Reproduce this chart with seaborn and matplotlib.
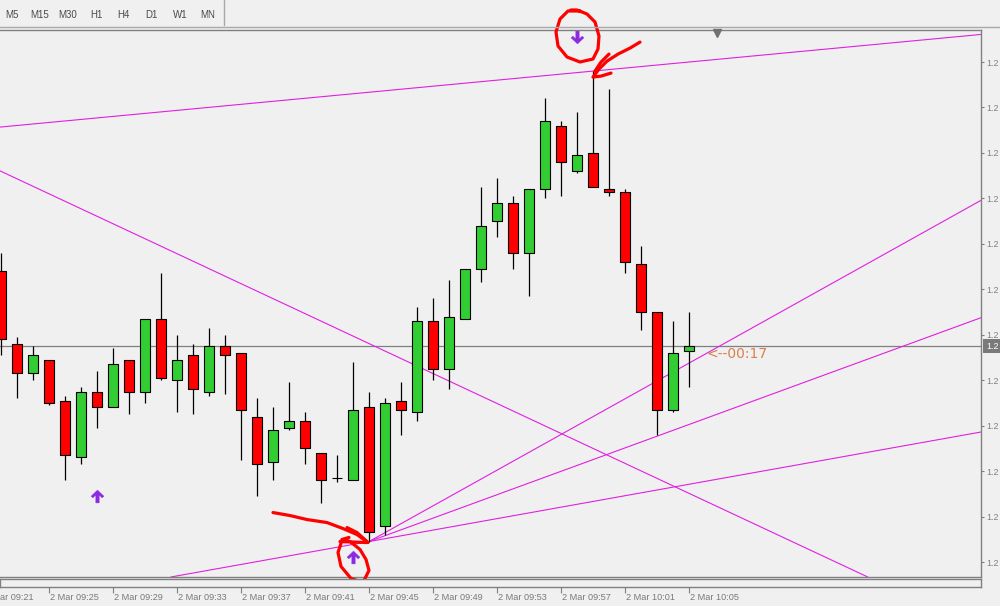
import numpy as np
import pandas as pd
import matplotlib
matplotlib.use("Agg")
import matplotlib.pyplot as plt
import matplotlib.transforms as mtransforms
from matplotlib.lines import Line2D
from matplotlib.path import Path
import seaborn as sns

# ---------------- M1 bars, 2 Mar, 09:22 .. 10:05 ----------------
first_bar = "2018-03-02 09:22"
opens = [1.23028, 1.22996, 1.22983, 1.22989, 1.22971, 1.22946, 1.22975, 1.22968, 1.22989, 1.22975,
         1.23007, 1.22980, 1.22991, 1.22975, 1.22995, 1.22992, 1.22964, 1.22944, 1.22959, 1.22962,
         1.22948, 1.22937, 1.22936, 1.22968, 1.22916, 1.22971, 1.22966, 1.23006, 1.22985, 1.23007,
         1.23029, 1.23050, 1.23058, 1.23036, 1.23064, 1.23092, 1.23072, 1.23080, 1.23064, 1.23063,
         1.23031, 1.23010, 1.22967, 1.22993]
highs = [1.23036, 1.22999, 1.22995, 1.22989, 1.22973, 1.22977, 1.22984, 1.22994, 1.22989, 1.23007,
         1.23027, 1.23000, 1.22996, 1.23003, 1.23000, 1.22992, 1.22972, 1.22968, 1.22979, 1.22966,
         1.22948, 1.22947, 1.22988, 1.22975, 1.22972, 1.22979, 1.23012, 1.23016, 1.23024, 1.23029,
         1.23065, 1.23069, 1.23061, 1.23064, 1.23104, 1.23094, 1.23098, 1.23116, 1.23108, 1.23064,
         1.23039, 1.23010, 1.23006, 1.23010]
lows = [1.22991, 1.22972, 1.22980, 1.22969, 1.22936, 1.22943, 1.22959, 1.22968, 1.22965, 1.22970,
        1.22980, 1.22966, 1.22965, 1.22973, 1.22974, 1.22945, 1.22929, 1.22936, 1.22958, 1.22943,
        1.22926, 1.22935, 1.22936, 1.22909, 1.22912, 1.22956, 1.22962, 1.22980, 1.22976, 1.23007,
        1.23023, 1.23043, 1.23029, 1.23017, 1.23060, 1.23061, 1.23071, 1.23065, 1.23061, 1.23027,
        1.23002, 1.22956, 1.22966, 1.22977]
closes = [1.22998, 1.22983, 1.22991, 1.22970, 1.22947, 1.22975, 1.22968, 1.22987, 1.22975, 1.23007,
          1.22981, 1.22989, 1.22976, 1.22995, 1.22991, 1.22967, 1.22943, 1.22958, 1.22962, 1.22950,
          1.22936, 1.22937, 1.22967, 1.22913, 1.22970, 1.22967, 1.23006, 1.22985, 1.23008, 1.23029,
          1.23048, 1.23058, 1.23036, 1.23064, 1.23094, 1.23076, 1.23079, 1.23065, 1.23063, 1.23032,
          1.23010, 1.22967, 1.22992, 1.22995]

# indicator arrows (bar index, price)
signal_up_idx = [6, 22]
signal_up_price = [1.22929, 1.22902]
signal_dn_idx = [36]
signal_dn_price = [1.23131]

# trend lines: two anchor points each (bar index, price)
trend_top = [(0, 1.230914), (37, 1.231160)]
trend_down = [(0, 1.230719), (40, 1.229401)]
trend_low = [(23, 1.229090), (43, 1.229342)]
# fan rays from the 09:45 low
fan_origin = (23, 1.229090)
fan_targets = [(43, 1.229875), (43, 1.229605)]

price_ticks = [1.22900, 1.22920, 1.22940, 1.22960, 1.22980, 1.23000,
               1.23020, 1.23040, 1.23060, 1.23080, 1.23100, 1.23120]
# the narrow price scale only has room for the leading digits
price_tick_text = "1.2"
time_labels = pd.date_range("2018-03-02 09:21", "2018-03-02 10:05", freq="4min")
timeframes = ["M5", "M15", "M30", "H1", "H4", "D1", "W1", "MN"]
timer_text = "<--00:17"

# ---------------- styling ----------------
sns.set_theme(style="white")
plt.rcParams["font.family"] = ["Liberation Sans", "DejaVu Sans"]

BG = "#f0f0f0"
FRAME = "#808080"
BULL = "#32cd32"
BEAR = "#ff0000"
LINE = "#e020e0"
SIGNAL = "#8a2be2"
MARK = "#ff0000"

W, H = 1000, 606
fig = plt.figure(figsize=(W / 100, H / 100), dpi=100, facecolor=BG)

top_px, bot_px, right_px = 29.5, 577.0, 981.0
ax = fig.add_axes([0, 1 - bot_px / H, right_px / W, (bot_px - top_px) / H])
ax.set_facecolor(BG)

idx = np.arange(len(opens))
o = np.array(opens); c = np.array(closes)
hi = np.array(highs); lo = np.array(lows)

ax.set_xlim(-1 / 16, 980 / 16)
ax.set_ylim(1.228934, 1.231343)

# wicks and bodies
ax.vlines(idx, lo, hi, color="black", lw=0.9, zorder=3)
body_col = np.where(c > o, BULL, np.where(c < o, BEAR, "black"))
ax.bar(idx, np.abs(c - o), bottom=np.minimum(o, c), width=0.6,
       color=body_col, edgecolor="black", linewidth=0.8, zorder=4)

# trend lines
for (p1, p2) in (trend_top, trend_down, trend_low):
    ax.axline(p1, p2, color=LINE, lw=0.8, zorder=2)
x_end = ax.get_xlim()[1]
for tx, ty in fan_targets:
    slope = (ty - fan_origin[1]) / (tx - fan_origin[0])
    ax.plot([fan_origin[0], x_end],
            [fan_origin[1], fan_origin[1] + slope * (x_end - fan_origin[0])],
            color=LINE, lw=0.8, zorder=2)

# bid line
bid = closes[-1]
ax.axhline(bid, color=FRAME, lw=0.9, zorder=1)

# arrow markers for indicator signals
up_arrow = Path([(0, 0.5), (0.5, 0.02), (0.36, -0.1), (0.13, 0.12), (0.13, -0.5),
                 (-0.13, -0.5), (-0.13, 0.12), (-0.36, -0.1), (-0.5, 0.02), (0, 0.5)],
                [Path.MOVETO] + [Path.LINETO] * 8 + [Path.CLOSEPOLY])
dn_arrow = Path(up_arrow.vertices * np.array([1, -1]), up_arrow.codes)
sns.scatterplot(x=signal_up_idx, y=signal_up_price, marker=up_arrow, s=85,
                color=SIGNAL, edgecolor=SIGNAL, linewidth=0.3, ax=ax, zorder=6, clip_on=False)
sns.scatterplot(x=signal_dn_idx, y=signal_dn_price, marker=dn_arrow, s=85,
                color=SIGNAL, edgecolor=SIGNAL, linewidth=0.3, ax=ax, zorder=6, clip_on=False)

# price scale on the right
ax.yaxis.tick_right()
ax.set_yticks(price_ticks)
ax.set_yticklabels([price_tick_text] * len(price_ticks))
ax.tick_params(axis="y", direction="out", length=2, width=0.8, color=FRAME,
               pad=1.5, labelsize=6.4, labelcolor="#808080", right=True, left=False)
ax.set_xticks([])
for side in ("top", "bottom", "right"):
    ax.spines[side].set_color(FRAME)
    ax.spines[side].set_linewidth(1.0)
ax.spines["left"].set_visible(False)

# bid price tag and bar timer
ax.annotate(price_tick_text, xy=(1, bid), xycoords=("axes fraction", "data"),
            xytext=(5, 0), textcoords="offset pixels", ha="left", va="center",
            fontsize=6.4, color="white", annotation_clip=False,
            bbox=dict(boxstyle="square,pad=0.3", fc="#7a7a7a", ec="none"))
ax.annotate(timer_text, xy=(idx[-1], bid), xytext=(17, -8), textcoords="offset pixels",
            ha="left", va="center", fontsize=10, color="#d8804f",
            family="DejaVu Sans", zorder=7)


# freehand marks, given as pixel offsets from the point they refer to
def stroke(anchor, pts, **kw):
    tr = mtransforms.Affine2D().scale(1, -1) + \
        mtransforms.ScaledTranslation(anchor[0], anchor[1], ax.transData)
    xs, ys = zip(*pts)
    ax.plot(xs, ys, transform=tr, color=MARK, lw=2.3, solid_capstyle="round",
            solid_joinstyle="round", clip_on=False, zorder=8)


top_sig = (signal_dn_idx[0], signal_dn_price[0])
stroke(top_sig, [(3, -26), (-9, -26), (-17, -18), (-21, -5), (-19, 9), (-10, 20), (3, 25),
                 (16, 22), (21, 12), (22, -1), (18, -15), (10, -23), (0, -27), (-6, -27)])
peak = (37, highs[37])
stroke(peak, [(47, -29), (37, -23), (25, -17), (14, -10), (6, -2), (0, 6), (8, 5), (18, 2)])
stroke(peak, [(16, -17), (8, -9), (2, 0)])
trough = (23, lows[23])
stroke(trough, [(-96, -29), (-79, -26), (-62, -22), (-42, -19), (-26, -13), (-12, -7), (-1, 1)])
stroke(trough, [(-22, -14), (-12, -9), (-2, 0)])
stroke(trough, [(-29, 0), (-2, 1)])
low_sig = (signal_up_idx[1], signal_up_price[1])
stroke(low_sig, [(-11, -17), (-15, -5), (-12, 9), (-2, 21), (10, 25), (16, 13), (13, 2),
                 (7, -8), (-3, -16), (-11, -18), (-4, -20)])

# thin strip below the chart carrying the time scale
sub = fig.add_axes([0, 1 - 587 / H, right_px / W, 8 / H])
sub.set_facecolor(BG)
sub.set_xlim(ax.get_xlim())
sub.set_yticks([])
for s in sub.spines.values():
    s.set_color(FRAME)
    s.set_linewidth(1.0)
t0 = pd.Timestamp(first_bar)
label_pos = [(t - t0) / pd.Timedelta(minutes=1) for t in time_labels]
lo_x, hi_x = sub.get_xlim()
sub.set_xticks([p for p in label_pos if lo_x <= p <= hi_x])
sub.tick_params(axis="x", direction="out", length=4, width=0.8, color=FRAME,
                labelbottom=False, bottom=True)
lab_tr = mtransforms.blended_transform_factory(sub.transData, fig.transFigure)
for p, t in zip(label_pos, time_labels):
    text = f"{t.day} {t:%b %H:%M}"
    x = p + 0.08
    if x < lo_x:
        # label scrolled past the left edge: only its tail is visible
        text, x = text[3:], lo_x
    sub.text(x, 1 - 597 / H, text, transform=lab_tr,
             ha="left", va="center", fontsize=6.6, color="#7a7a7a", clip_on=False)

# toolbar with timeframe buttons
tb_x = [12, 40, 68, 96, 123, 151, 180, 208]
for x, lab in zip(tb_x, timeframes):
    fig.text(x / W, 1 - 15 / H, lab, ha="center", va="center", fontsize=7, color="#4a4a4a")
fig.add_artist(Line2D([0, 1], [1 - 26.5 / H] * 2, transform=fig.transFigure,
                      color="#a8a8a8", lw=1.0))
fig.add_artist(Line2D([223.5 / W] * 2, [1, 1 - 25 / H], transform=fig.transFigure,
                      color="#a8a8a8", lw=1.0))
# chart shift marker
fig.add_artist(Line2D([717 / W], [1 - 33 / H], transform=fig.transFigure, marker="v",
                      markersize=5.5, color="#707070", linestyle="none"))

fig.savefig("out.png", dpi=100, facecolor=BG)
